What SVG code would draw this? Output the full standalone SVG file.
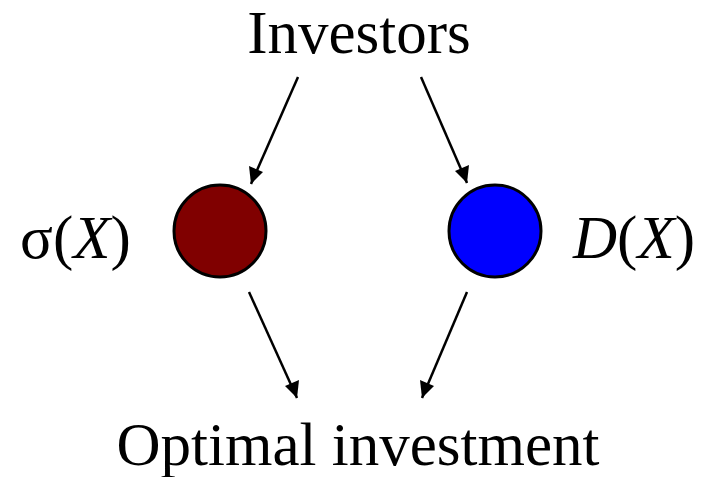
<svg xmlns="http://www.w3.org/2000/svg" width="706" height="477" viewBox="0 0 706 477">
<defs>
<marker id="ah" viewBox="0 0 10 10" refX="10" refY="5" markerWidth="6" markerHeight="6" markerUnits="userSpaceOnUse" orient="auto">
<path d="M0,0 L10,5 L0,10 z" fill="#000"/>
</marker>
<style>
.t{font-family:"Liberation Serif","Times New Roman",serif;font-size:61px;fill:#000}
.node{stroke:#000;stroke-width:3}
.e{stroke:#000;stroke-width:2.5;fill:none;marker-end:url(#ah)}
</style>
</defs>
<rect width="706" height="477" fill="#fff"/>
<g id="investors"><text class="t" x="359" y="53" text-anchor="middle">Investors</text></g>
<g id="sigma">
<circle class="node" cx="220" cy="231" r="46" fill="#800000"/>
<text class="t" x="20" y="258">σ(<tspan font-style="italic">X</tspan>)</text>
</g>
<g id="dx">
<circle class="node" cx="495" cy="231" r="46" fill="#0000ff"/>
<text class="t" x="573" y="258"><tspan font-style="italic">D</tspan>(<tspan font-style="italic">X</tspan>)</text>
</g>
<g id="optimal"><text class="t" x="358" y="465" text-anchor="middle">Optimal investment</text></g>
<g id="connectors">
<path d="M298,77 L251,184" class="e" style="marker-end:none"/>
<path d="M421,77 L467,183" class="e" style="marker-end:none"/>
<path d="M249,292 L297,398" class="e" style="marker-end:none"/>
<path d="M467,292 L422,398" class="e" style="marker-end:none"/>
<polygon points="251,184 249,166 263,172" fill="#000"/>
<polygon points="467,183 455,171 469,165" fill="#000"/>
<polygon points="297,398 285,386 299,380" fill="#000"/>
<polygon points="422,398 420,380 434,386" fill="#000"/>
</g>
</svg>
